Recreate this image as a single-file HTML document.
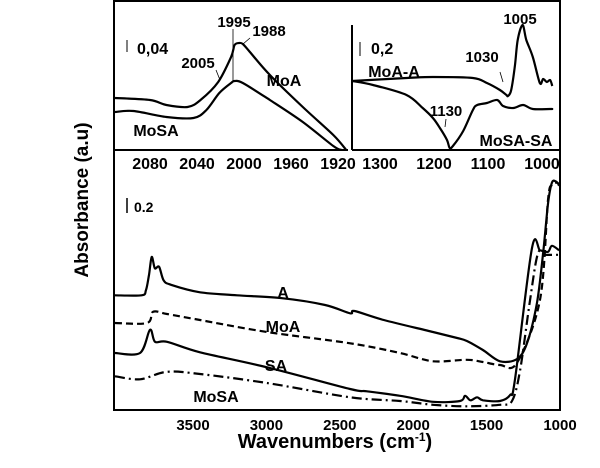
<!DOCTYPE html>
<html><head><meta charset="utf-8"><style>
html,body{margin:0;padding:0;background:#fff;}
svg{display:block;font-family:"Liberation Sans",Arial,sans-serif;font-weight:bold;}
</style></head><body>
<svg id="chart" width="600" height="468" viewBox="0 0 600 468" xmlns="http://www.w3.org/2000/svg">
<rect x="114" y="1" width="446" height="409" fill="none" stroke="#000" stroke-width="2"/>
<line x1="114" y1="150" x2="348" y2="150" stroke="#000" stroke-width="2"/>
<line x1="352" y1="25" x2="352" y2="150" stroke="#000" stroke-width="2"/>
<line x1="352" y1="150" x2="559" y2="150" stroke="#000" stroke-width="2"/>
<text x="88" y="200" font-size="19" text-anchor="middle" transform="rotate(-90 88 200)">Absorbance  (a.u)</text>
<text x="335" y="448" font-size="20" text-anchor="middle">Wavenumbers  (cm<tspan font-size="12" dy="-7">-1</tspan><tspan dy="7">)</tspan></text>
<g id="main"></g>
<g id="li"></g>
<g id="ri"></g>
<line x1="127" y1="198" x2="127" y2="213" stroke="#000" stroke-width="1.5"/>
<text x="134" y="212" font-size="14">0.2</text>
<line x1="127" y1="40" x2="127" y2="52" stroke="#000" stroke-width="1"/>
<text x="137" y="54" font-size="16">0,04</text>
<line x1="360" y1="42" x2="360" y2="56" stroke="#000" stroke-width="1"/>
<text x="371" y="54" font-size="16">0,2</text>
</svg>
<script>
// ---- main chart data ----
const mainTicks = [3500, 3000, 2500, 2000, 1500, 1000];
const aW = [4040,3850,3820,3800,3781,3760,3731,3700,3650,3452,3200,2887,2600,2430,2400,2200,1865,1700,1634,1525,1409,1293,1225,1157,1115,1081,1055,1030,1000];
const aV = [1.53,1.53,1.6,1.8,2.04,1.89,1.91,1.73,1.67,1.57,1.53,1.49,1.4,1.29,1.32,1.2,1.04,0.96,0.92,0.8,0.65,0.68,0.89,1.43,2.09,2.76,3.03,3.05,3.01];
const moaW = [4040,3813,3772,3677,3452,2996,2430,2090,1865,1634,1525,1409,1293,1136,1082,1055,1020,1000];
const moaV = [1.16,1.16,1.31,1.28,1.2,1.04,0.89,0.76,0.65,0.67,0.64,0.6,0.63,1.47,2.8,3.0,3.03,2.99];
const saW = [4040,3861,3793,3759,3677,3452,2996,2430,2315,2090,1865,1681,1647,1610,1565,1525,1409,1340,1307,1191,1136,1082,1055,1000];
const saV = [0.76,0.76,1.07,0.91,0.91,0.77,0.57,0.28,0.25,0.19,0.11,0.12,0.19,0.13,0.17,0.13,0.12,0.2,0.4,2.16,2.13,2.11,2.19,2.13];
const mosaW = [4040,3861,3677,3452,2996,2430,2090,1865,1634,1409,1327,1272,1204,1150,1100,1000];
const mosaV = [0.45,0.41,0.51,0.48,0.36,0.17,0.12,0.07,0.05,0.07,0.12,0.53,1.47,2.09,2.07,2.07];
// ---- left inset data ----
const liTicks = [2080, 2040, 2000, 1960, 1920];
const liMoaW = [2111,2080,2066,2048,2037,2022,2011,2008,2004,2001,1995,1978,1950,1924,1913];
const liMoaV = [0.052,0.05,0.045,0.043,0.05,0.068,0.093,0.105,0.107,0.106,0.098,0.075,0.043,0.015,0];
const liMosaW = [2111,2094,2066,2043,2032,2021,2011,2008,2001,1978,1950,1924,1917];
const liMosaV = [0.038,0.039,0.033,0.032,0.04,0.057,0.067,0.069,0.067,0.05,0.028,0.004,0];
// ---- right inset data ----
const riTicks = [1300, 1200, 1100, 1000];
const riMoaW = [1352,1251,1202,1128,1102,1078,1066,1063,1057,1050,1045,1036,1029,1017,1004,998,991,985,981];
const riMoaV = [0.69,0.72,0.73,0.72,0.67,0.6,0.55,0.54,0.6,0.85,1.1,1.25,1.1,0.93,0.67,0.71,0.68,0.7,0.64];
const riMosaW = [1352,1313,1251,1221,1202,1189,1176,1171,1165,1146,1128,1120,1102,1083,1072,1053,1035,1017,985,981];
const riMosaV = [0.69,0.65,0.55,0.42,0.32,0.22,0.1,0.02,0.04,0.19,0.4,0.45,0.47,0.5,0.44,0.42,0.45,0.41,0.41,0.41];

const NS = "http://www.w3.org/2000/svg";
function mk(tag, attrs, parent){const e=document.createElementNS(NS,tag);for(const k in attrs)e.setAttribute(k,attrs[k]);parent.appendChild(e);return e;}
// axis functions
const mx = w => 193 + (3500 - w) * 0.1468;
const my = v => 410 - v * 75;
const lx = w => 150 + (2080 - w) * 1.175;
const ly = v => 150 - v * 1000;
const rx = w => 542 + (1000 - w) * 0.54;
const ry = v => 150 - v * 100;
function clamp(v,lo,hi){return Math.max(lo,Math.min(hi,v));}
function path(ws, vs, fx, fy, x0, x1){
  const P = ws.map((w,i)=>[clamp(fx(w),x0,x1), fy(vs[i])]);
  let d = 'M'+P[0][0].toFixed(1)+','+P[0][1].toFixed(1);
  const t = 0.16;
  for(let i=0;i<P.length-1;i++){
    const p0=P[Math.max(0,i-1)], p1=P[i], p2=P[i+1], p3=P[Math.min(P.length-1,i+2)];
    const c1=[p1[0]+(p2[0]-p0[0])*t, p1[1]+(p2[1]-p0[1])*t];
    const c2=[p2[0]-(p3[0]-p1[0])*t, p2[1]-(p3[1]-p1[1])*t];
    d+=' C'+c1.map(v=>v.toFixed(1)).join(',')+' '+c2.map(v=>v.toFixed(1)).join(',')+' '+p2.map(v=>v.toFixed(1)).join(',');
  }
  return d;
}
const main=document.getElementById('main'), li=document.getElementById('li'), ri=document.getElementById('ri');

function series(g, ws, vs, fx, fy, x0, x1, dash, name){
  const p = mk('path',{d:path(ws,vs,fx,fy,x0,x1),fill:'none',stroke:'#000','stroke-width':2.2,'stroke-linejoin':'round'},g);
  if(dash) p.setAttribute('stroke-dasharray',dash);
  
  
}
series(main,aW,aV,mx,my,115,559,null,'series-a');
series(main,moaW,moaV,mx,my,115,559,'7,4','series-moa');
series(main,saW,saV,mx,my,115,559,null,'series-sa');
series(main,mosaW,mosaV,mx,my,115,559,'10,4,2,4','series-mosa');
series(li,liMoaW,liMoaV,lx,ly,115,347,null,'inset-moa');
series(li,liMosaW,liMosaV,lx,ly,115,347,null,'inset-mosa');
series(ri,riMoaW,riMoaV,rx,ry,352,558,null,'inset-moa-a');
series(ri,riMosaW,riMosaV,rx,ry,352,558,null,'inset-mosa-sa');

function ticks(g, arr, fx, y, size, name){
  arr.forEach(t=>{
    const e=mk('text',{x:fx(t),y:y,'font-size':size,'text-anchor':'middle'},g);
    e.textContent=t;
    
    
  });
}
ticks(main,mainTicks,mx,430,15,'main-x-tick-label');
ticks(li,liTicks,lx,169,16,'left-inset-x-tick-label');
ticks(ri,riTicks,rx,169,16,'right-inset-x-tick-label');

function label(g,x,y,t,size,name){
  const e=mk('text',{x:x,y:y,'font-size':size,'text-anchor':'middle'},g);
  e.textContent=t;
  
  
}
label(main,283,298,'A',16,'label-a');
label(main,283,332,'MoA',16,'label-moa');
label(main,276,371,'SA',16,'label-sa');
label(main,216,402,'MoSA',16,'label-mosa');
label(li,234,27,'1995',15,'peak-1995');
label(li,269,36,'1988',15,'peak-1988');
label(li,198,68,'2005',15,'peak-2005');
label(li,284,86,'MoA',16,'inset-label-moa');
label(li,156,136,'MoSA',16,'inset-label-mosa');
label(ri,520,24,'1005',15,'peak-1005');
label(ri,482,62,'1030',15,'peak-1030');
label(ri,446,116,'1130',15,'peak-1130');
label(ri,394,77,'MoA-A',16,'inset-label-moa-a');
label(ri,516,146,'MoSA-SA',16,'inset-label-mosa-sa');
function ln(g,x1,y1,x2,y2,name){
  const e=mk('line',{x1:x1,y1:y1,x2:x2,y2:y2,stroke:'#000','stroke-width':0.8},g);
  
  
}
ln(li,233,29,233,82,'peak-1995-marker');
ln(li,243,44,250,38,'peak-1988-marker');
ln(li,216,70,220,80,'peak-2005-marker');
ln(ri,500,72,503,82,'peak-1030-marker');
ln(ri,446,119,445,127,'peak-1130-marker');
</script>
</body></html>
